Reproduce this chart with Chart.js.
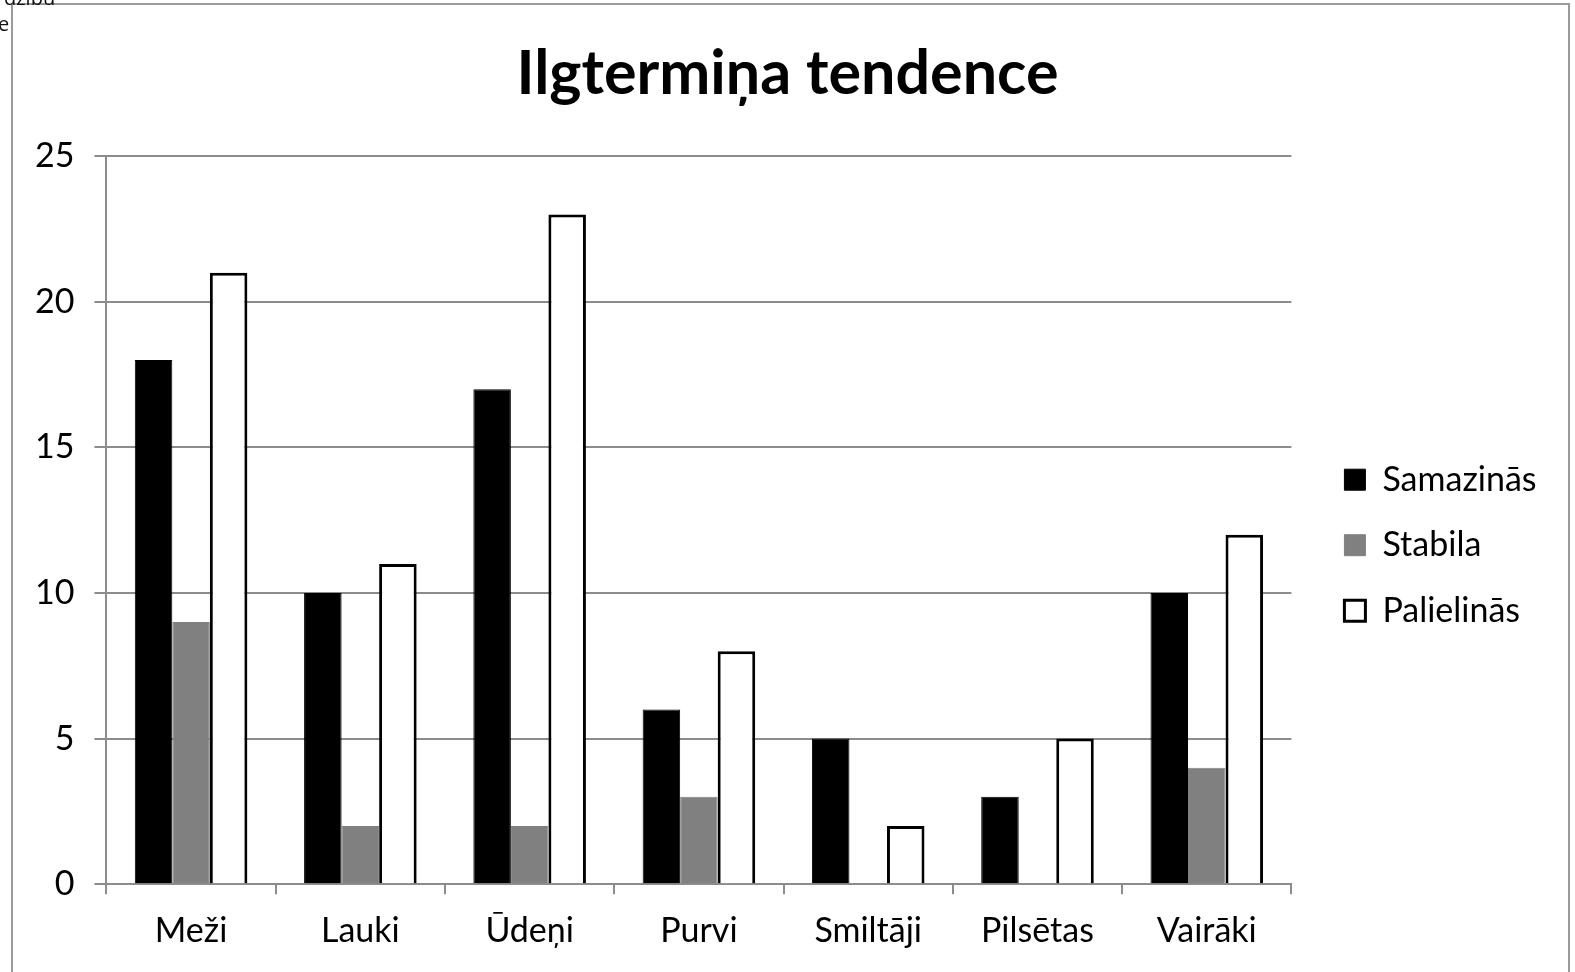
<!DOCTYPE html>
<html>
<head>
<meta charset="utf-8">
<script src="https://cdn.jsdelivr.net/npm/chart.js@4"></script>
<style>
  html, body { margin: 0; padding: 0; background: #fff; }
  #wrap { position: relative; width: 1575px; height: 972px; overflow: hidden; }
  #frame { position: absolute; left: 11px; top: 3px; width: 1555px; height: 1000px;
           border: 2px solid #9a9a9a; border-bottom: none; pointer-events: none; }
  .cut { position: absolute; font-family: 'Open Sans', sans-serif; font-size: 20px; color: #111; }
</style>
</head>
<body>
<div id="wrap">
  <canvas id="trend" width="1575" height="972"></canvas>
  <div id="frame"></div>
  <span class="cut" style="left:4px; top:-16px;">dzību</span>
  <span class="cut" style="left:-2px; top:10px;">e</span>
</div>
<script>
let categories = ['Meži', 'Lauki', 'Ūdeņi', 'Purvi', 'Smiltāji', 'Pilsētas', 'Vairāki']
let samazinas = [18, 10, 17, 6, 5, 3, 10]
let stabila = [9, 2, 2, 3, 0, 0, 4]
let palielinas = [21, 11, 23, 8, 2, 5, 12]
let yTicks = [0, 5, 10, 15, 20, 25]

let font = 'Lato'
let legendPad = 31.5

// key sits further from the plot and a bit lower, title centred on the page
const legendShift = {
  id: 'legendShift',
  beforeDraw(chart) {
    let lg = chart.legend
    let area = chart.chartArea
    let colH = lg.columnSizes[0].height
    let dx = area.right + 53 - legendPad - lg.left
    let firstTop = (area.top + area.bottom) / 2 + 25 - (colH - legendPad) / 2
    let curTop = (lg.top + legendPad + lg.bottom - colH) / 2
    let dy = firstTop - curTop
    lg.left += dx
    lg.right += dx
    lg.top += dy
    lg.bottom += dy

    let tb = chart.titleBlock
    let tdx = chart.width / 2 - (tb.left + tb.right) / 2
    tb.left += tdx
    tb.right += tdx
  }
}

let ctx = document.getElementById('trend').getContext('2d')

let barChart = new Chart(ctx, {
  type: 'bar',
  data: {
    labels: categories,
    datasets: [{
      label: 'Samazinās',
      backgroundColor: '#000000',
      borderColor: '#000000',
      borderWidth: 1,
      data: samazinas
    }, {
      label: 'Stabila',
      backgroundColor: '#808080',
      borderColor: '#808080',
      borderWidth: 1,
      data: stabila
    }, {
      label: 'Palielinās',
      backgroundColor: '#ffffff',
      borderColor: '#000000',
      borderWidth: 3,
      data: palielinas
    }]
  },
  plugins: [legendShift],
  options: {
    responsive: false,
    animation: false,
    layout: { padding: { left: 15, right: 50, top: 0, bottom: 5 } },
    datasets: {
      bar: { categoryPercentage: 0.665, barPercentage: 1.0 }
    },
    plugins: {
      title: {
        display: true,
        text: 'Ilgtermiņa tendence',
        color: '#000',
        font: { family: font, size: 61, weight: 'bold' },
        padding: { top: 38, bottom: 45 }
      },
      legend: {
        position: 'right',
        labels: {
          color: '#000',
          font: { family: font, size: 34 },
          boxWidth: 21,
          boxHeight: 21,
          padding: legendPad
        }
      },
      tooltip: { enabled: false }
    },
    scales: {
      x: {
        grid: {
          display: true,
          drawOnChartArea: false,
          drawTicks: true,
          tickLength: 10,
          color: '#8c8c8c',
          lineWidth: 2
        },
        border: { color: '#8c8c8c', width: 2 },
        ticks: {
          color: '#000',
          font: { family: font, size: 34 },
          padding: 16
        }
      },
      y: {
        min: 0,
        max: 25,
        afterBuildTicks: (axis) => {
          axis.ticks = yTicks.map(v => ({ value: v }))
        },
        grid: {
          color: '#8c8c8c',
          lineWidth: 2,
          tickLength: 12
        },
        border: { color: '#8c8c8c', width: 2 },
        ticks: {
          color: '#000',
          font: { family: font, size: 34 },
          padding: 20
        }
      }
    }
  }
})
</script>
</body>
</html>
